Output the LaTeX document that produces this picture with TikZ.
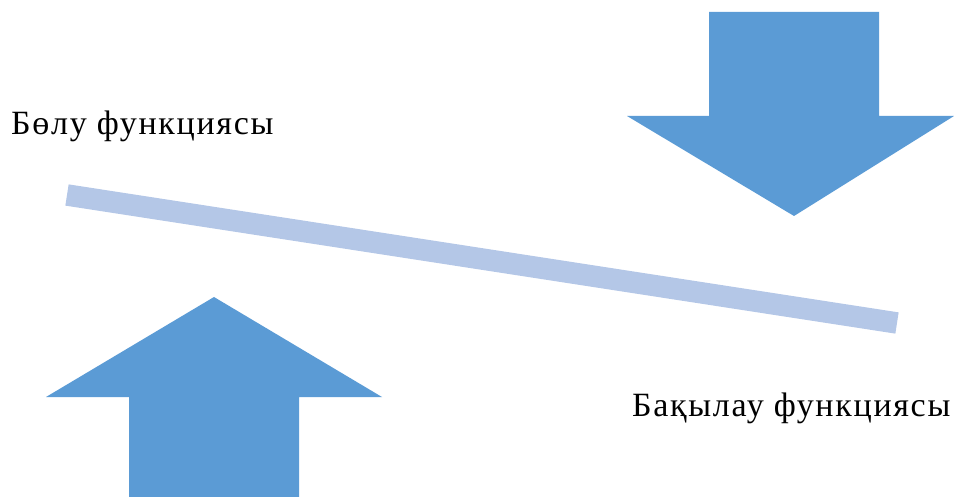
\documentclass[tikz,border=0pt]{standalone}
\usepackage{fontspec}
\setmainfont{Liberation Serif}[LetterSpace=5]
\usepackage{tikz}
\definecolor{arrowblue}{HTML}{5B9BD5}
\definecolor{barblue}{HTML}{B4C7E7}
\tikzstyle{functext} = [inner sep=0pt,font=\fontsize{34}{40}\selectfont]
\tikzstyle{bigarrow} = [fill=arrowblue,draw=none]
\tikzstyle{beam} = [draw=barblue,line width=21.5pt,line cap=butt]

\begin{document}
\begin{tikzpicture}[x=1pt,y=-1pt]
				\useasboundingbox (0,0) rectangle (954,497);
				\node (div) [functext,anchor=base west] at (11,135) {Бөлу функциясы};
				\node (ctrl) [functext,anchor=base west] at (632,416) {Бақылау функциясы};
				\coordinate (left) at (67,195);
				\coordinate (right) at (897,323);
				\draw [beam] (left) -- (right);
				\fill [bigarrow] (709,12) -- (879,12) -- (879,116) -- (954,116) -- (794,216) -- (627,116) -- (709,116) -- cycle;
				\fill [bigarrow] (214,297) -- (382,397) -- (299,397) -- (299,497) -- (129,497) -- (129,397) -- (46,397) -- cycle;
			\end{tikzpicture}
\end{document}
